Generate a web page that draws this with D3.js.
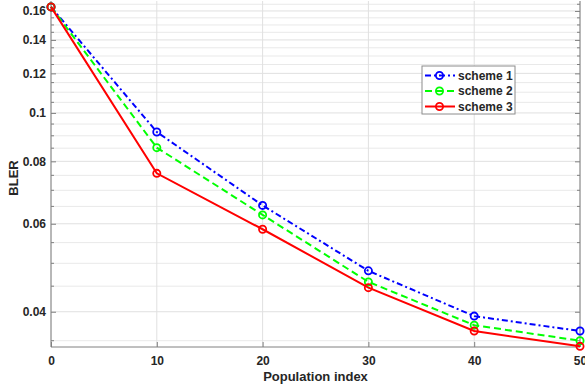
<!DOCTYPE html>
<html>
<head>
<meta charset="utf-8">
<script src="https://cdn.jsdelivr.net/npm/d3@7"></script>
<style>
  body { margin: 0; background: #fff; }
  svg { display: block; font-family: "Liberation Sans", Arial, sans-serif; }
</style>
</head>
<body>
<svg id="chart" width="585" height="390"></svg>
<script>
// Data
var populationIndex = [0, 10, 20, 30, 40, 50];
var scheme1 = [0.163, 0.0916, 0.0653, 0.0483, 0.0392, 0.0366];
var scheme2 = [0.163, 0.0852, 0.0625, 0.0459, 0.0376, 0.0350];
var scheme3 = [0.163, 0.0757, 0.0585, 0.0447, 0.0366, 0.0341];
var seriesNames = ["scheme 1", "scheme 2", "scheme 3"];

var xTicks = [0, 10, 20, 30, 40, 50];
var yTicks = [0.04, 0.06, 0.08, 0.1, 0.12, 0.14, 0.16];
var yTickLabels = ["0.04", "0.06", "0.08", "0.1", "0.12", "0.14", "0.16"];
var yMinorTicks = [0.035, 0.045, 0.05, 0.055, 0.065, 0.07, 0.075, 0.085, 0.09, 0.095,
    0.105, 0.11, 0.115, 0.125, 0.13, 0.135, 0.145, 0.15, 0.155, 0.165];

var svg = d3.select("#chart");
var plotLeft = 51, plotRight = 580, plotTop = 1, plotBottom = 347;

var x = d3.scaleLinear().domain([0, 50]).range([plotLeft, plotRight]);
var y = d3.scaleLog().domain([0.034, 0.1675]).range([plotBottom, plotTop]);

var axisColor = "#808080", textColor = "#262626";

// grid
var grid = svg.append("g");
grid.selectAll(".gy-minor")
    .data(yMinorTicks)
    .enter().append("line")
    .attr("x1", plotLeft).attr("x2", plotRight)
    .attr("y1", function (d) { return y(d); })
    .attr("y2", function (d) { return y(d); })
    .attr("stroke", "#e9e9e9").attr("stroke-width", 1);
grid.selectAll(".gy")
    .data(yTicks)
    .enter().append("line")
    .attr("x1", plotLeft).attr("x2", plotRight)
    .attr("y1", function (d) { return y(d); })
    .attr("y2", function (d) { return y(d); })
    .attr("stroke", "#e0e0e0").attr("stroke-width", 1);
grid.selectAll(".gx")
    .data(xTicks)
    .enter().append("line")
    .attr("y1", plotTop).attr("y2", plotBottom)
    .attr("x1", function (d) { return x(d); })
    .attr("x2", function (d) { return x(d); })
    .attr("stroke", "#e0e0e0").attr("stroke-width", 1);

// axes (ticks inward, box on)
var yAxisL = svg.append("g").attr("transform", "translate(" + plotLeft + ",0)")
    .call(d3.axisLeft(y).tickValues(yTicks).tickSize(-5).tickPadding(5)
        .tickFormat(function (d, i) { return yTickLabels[i]; }));
var yAxisR = svg.append("g").attr("transform", "translate(" + plotRight + ",0)")
    .call(d3.axisRight(y).tickValues(yTicks).tickSize(-5).tickFormat(""));
var xAxis = svg.append("g").attr("transform", "translate(0," + plotBottom + ")")
    .call(d3.axisBottom(x).tickValues(xTicks).tickSize(-5).tickPadding(9));

[yAxisL, yAxisR, xAxis].forEach(function (g) {
    g.select(".domain").remove();
    g.selectAll(".tick line").attr("stroke", axisColor);
    g.selectAll("text").attr("fill", textColor)
        .attr("font-size", "12px").attr("font-weight", "bold");
});

// minor ticks
[[plotLeft, 3], [plotRight, -3]].forEach(function (s) {
    svg.append("g").selectAll("line")
        .data(yMinorTicks)
        .enter().append("line")
        .attr("x1", s[0]).attr("x2", s[0] + s[1])
        .attr("y1", function (d) { return y(d); })
        .attr("y2", function (d) { return y(d); })
        .attr("stroke", axisColor);
});

// axis box
svg.append("path")
    .attr("d", "M" + plotLeft + "," + plotTop + "V" + plotBottom + "H" + plotRight + "V" + plotTop)
    .attr("fill", "none").attr("stroke", axisColor).attr("stroke-width", 1);

// series
var series = [
    { name: seriesNames[0], values: scheme1, color: "#0000ff", dash: "6,3,2,3" },
    { name: seriesNames[1], values: scheme2, color: "#00ff00", dash: "7,4" },
    { name: seriesNames[2], values: scheme3, color: "#ff0000", dash: null }
];

var line = d3.line()
    .x(function (d, i) { return x(populationIndex[i]); })
    .y(function (d) { return y(d); });

var plot = svg.append("g");
series.forEach(function (s) {
    plot.append("path")
        .datum(s.values)
        .attr("d", line)
        .attr("fill", "none")
        .attr("stroke", s.color)
        .attr("stroke-width", 2)
        .attr("stroke-dasharray", s.dash);
    plot.selectAll(null)
        .data(s.values)
        .enter().append("circle")
        .attr("cx", function (d, i) { return x(populationIndex[i]); })
        .attr("cy", function (d) { return y(d); })
        .attr("r", 3.6)
        .attr("fill", "none")
        .attr("stroke", s.color)
        .attr("stroke-width", 1.8);
});

// axis labels
svg.append("text")
    .attr("x", (plotLeft + plotRight) / 2).attr("y", 381)
    .attr("text-anchor", "middle")
    .attr("font-size", "13px").attr("font-weight", "bold")
    .attr("fill", textColor)
    .text("Population index");

svg.append("text")
    .attr("transform", "translate(17.5,178) rotate(-90)")
    .attr("text-anchor", "middle")
    .attr("font-size", "13px").attr("font-weight", "bold")
    .attr("fill", textColor)
    .text("BLER");

// legend
var legend = svg.append("g").attr("transform", "translate(422,66)");
legend.append("rect")
    .attr("width", 93).attr("height", 48)
    .attr("fill", "#fff").attr("stroke", "#8c8c8c").attr("stroke-width", 1);
series.forEach(function (s, i) {
    var ly = 9.5 + i * 15.5;
    legend.append("line")
        .attr("x1", 3).attr("x2", 33)
        .attr("y1", ly).attr("y2", ly)
        .attr("stroke", s.color).attr("stroke-width", 2)
        .attr("stroke-dasharray", s.dash);
    legend.append("circle")
        .attr("cx", 17.5).attr("cy", ly).attr("r", 3.6)
        .attr("fill", "none").attr("stroke", s.color).attr("stroke-width", 1.8);
    legend.append("text")
        .attr("x", 36).attr("y", ly + 4.3)
        .attr("font-size", "12px").attr("font-weight", "bold")
        .attr("fill", textColor)
        .text(s.name);
});
</script>
</body>
</html>
